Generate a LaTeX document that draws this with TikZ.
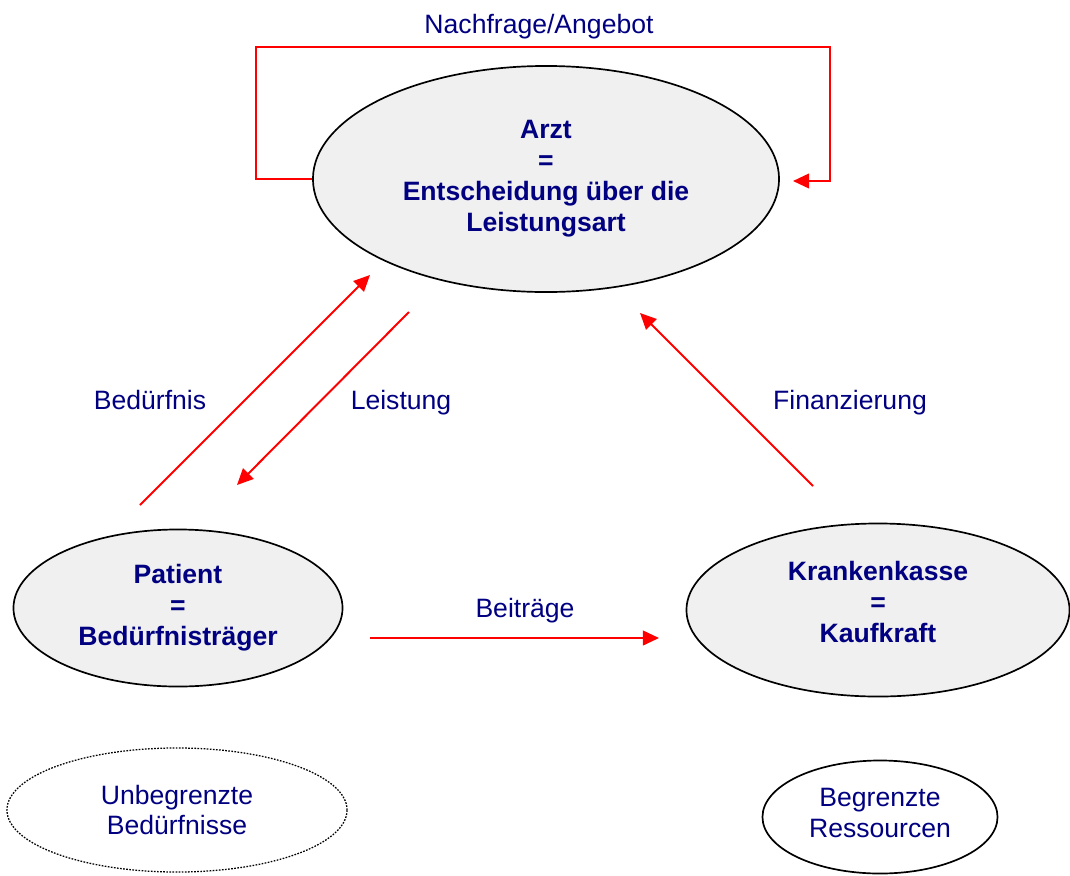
\documentclass[tikz,border=0pt]{standalone}
\usepackage{fontspec}
\setmainfont{Liberation Sans}
\usepackage{tikz}
\usetikzlibrary{shapes.geometric,arrows.meta}
\definecolor{navy}{RGB}{0,0,128}
\definecolor{hellgrau}{RGB}{240,240,240}
\tikzset{
  akteur/.style={ellipse, draw, line width=1.2pt, fill=hellgrau, text=navy,
    font=\bfseries\fontsize{18.9}{22}\selectfont, align=center, inner sep=0pt},
  ressource/.style={ellipse, draw, line width=1.2pt, text=navy,
    font=\fontsize{18.9}{22}\selectfont, align=center, inner sep=0pt},
  fluss/.style={red, line width=1.4pt, -{Triangle[length=11.5pt,width=10.5pt]}},
  beschr/.style={text=navy, font=\fontsize{18.9}{22}\selectfont, anchor=base}
}

\begin{document}
\begin{tikzpicture}[x=0.025cm, y=-0.025cm]
\useasboundingbox (0,0) rectangle (1070,875);
% Akteure
\node[akteur, minimum width=11.65cm, minimum height=5.65cm] (arzt) at (546,179)
  {Arzt\\=\\Entscheidung über die\\Leistungsart};
\node[akteur, minimum width=8.225cm, minimum height=3.925cm] (patient) at (178,608)
  {Patient\\=\\Bedürfnisträger};
\node[akteur, minimum width=9.575cm, minimum height=4.325cm, text depth=11.5pt] (kasse) at (878,610)
  {Krankenkasse\\=\\Kaufkraft};
% Ressourcen
\node[ressource, densely dotted, line width=0.9pt, minimum width=8.5cm, minimum height=3.1cm] (unbegr) at (177,810)
  {Unbegrenzte\\Bedürfnisse};
\node[ressource, minimum width=5.875cm, minimum height=2.825cm, text depth=5.7pt] (begr) at (880,817)
  {Begrenzte\\Ressourcen};
% Endpunkte der Pfeile
\coordinate (nw) at (256,47);
\coordinate (ne) at (830,47);
\coordinate (ein) at (793,181);
\coordinate (bed1) at (140,505);
\coordinate (bed2) at (370,275);
\coordinate (lei1) at (409,312);
\coordinate (lei2) at (237,485);
\coordinate (fin1) at (813,486);
\coordinate (fin2) at (640,313);
\coordinate (bei1) at (370,638);
\coordinate (bei2) at (659,638);
% Pfeile
\draw[fluss] (arzt.west) -| (nw) -- (ne) |- (ein);
\draw[fluss] (bed1) -- (bed2);
\draw[fluss] (lei1) -- (lei2);
\draw[fluss] (fin1) -- (fin2);
\draw[fluss] (bei1) -- (bei2);
% Beschriftungen
\node[beschr] (nachfrage) at (539,33) {Nachfrage/Angebot};
\node[beschr] (beduerfnis) at (150,409.5) {Bedürfnis};
\node[beschr] (leistung) at (401,409.5) {Leistung};
\node[beschr] (finanz) at (850,409.5) {Finanzierung};
\node[beschr] (beitraege) at (525,617) {Beiträge};
\end{tikzpicture}
\end{document}
